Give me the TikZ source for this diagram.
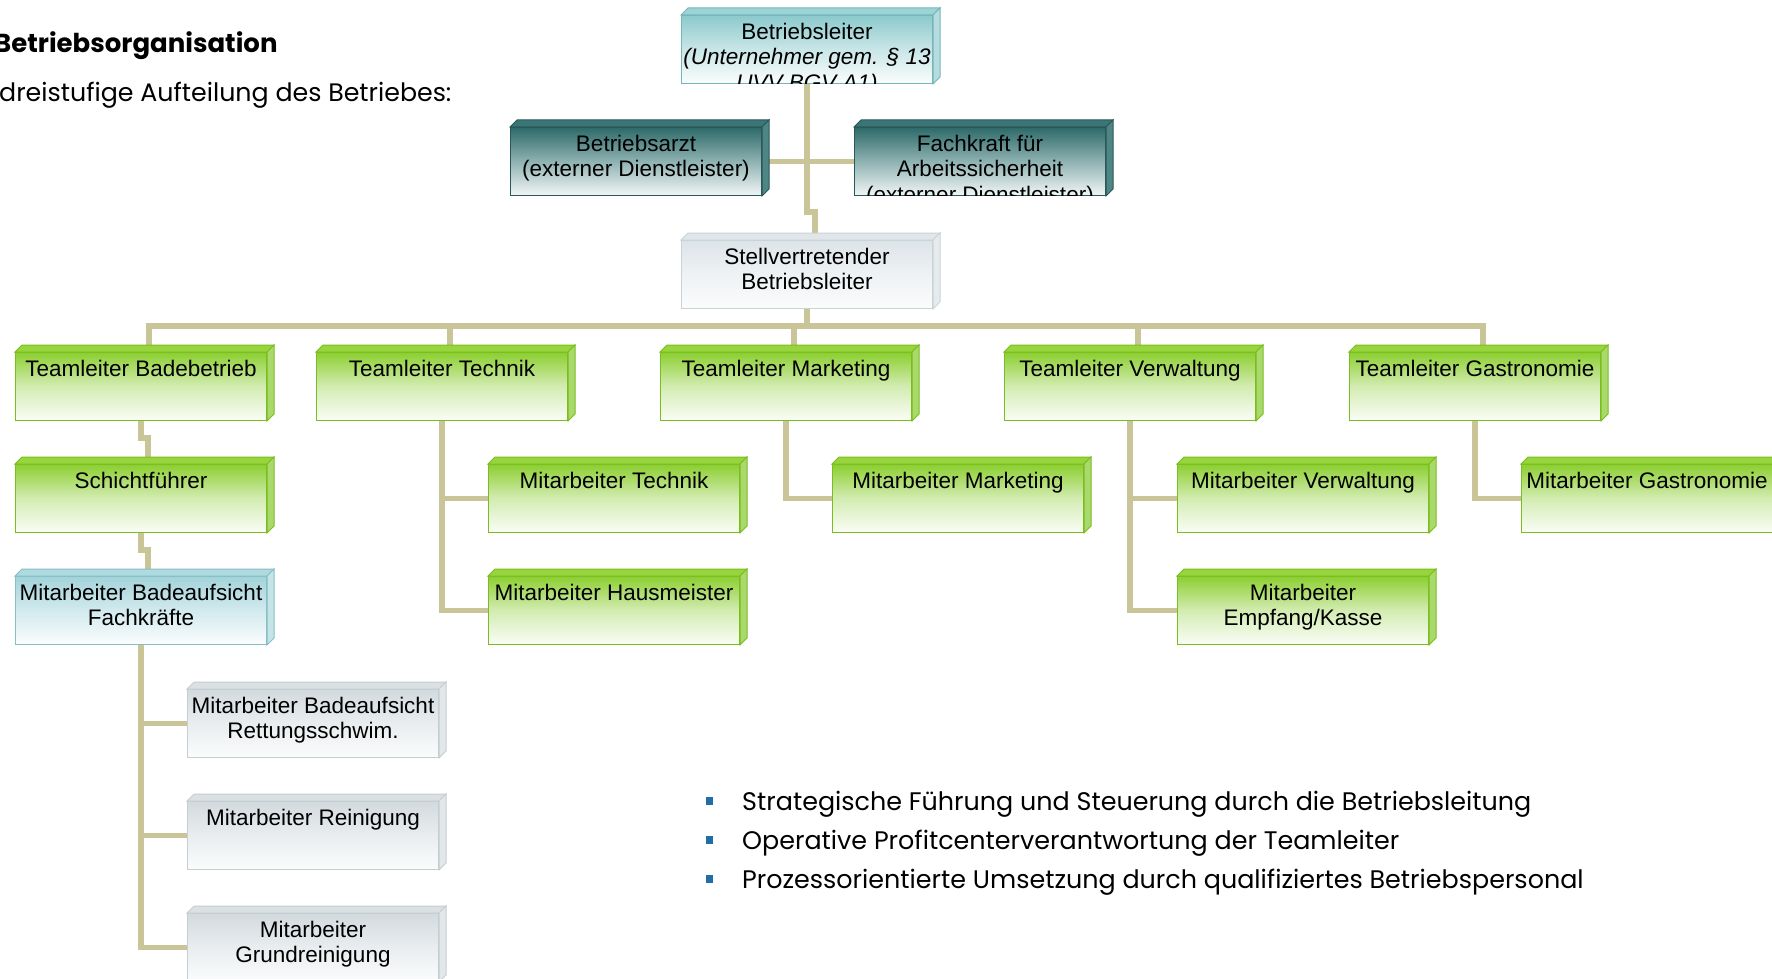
\documentclass[tikz,border=0pt]{standalone}
\usepackage{fontspec}
\setmainfont{Liberation Sans}
\newfontfamily\gothic{Poppins}
\usetikzlibrary{calc}
\pgfdeclarelayer{bg}
\pgfsetlayers{bg,main}

\definecolor{conncol}{HTML}{C9C598}
\definecolor{bulcol}{HTML}{1F6EA5}
% green
\definecolor{grA}{HTML}{8DCF32}\definecolor{grB}{HTML}{D3ECB2}\definecolor{grC}{HTML}{FAFDF6}
\definecolor{grD}{HTML}{79BE1E}\definecolor{grT}{HTML}{98D53C}\definecolor{grS}{HTML}{A9D96C}
% dark teal
\definecolor{tlA}{HTML}{2F6A6A}\definecolor{tlB}{HTML}{8FB2B2}\definecolor{tlC}{HTML}{F2F6F6}
\definecolor{tlD}{HTML}{2A5858}\definecolor{tlT}{HTML}{3B7676}\definecolor{tlS}{HTML}{4E8585}
% light cyan
\definecolor{cyA}{HTML}{8CCACD}\definecolor{cyB}{HTML}{C9E6E7}\definecolor{cyC}{HTML}{FBFDFD}
\definecolor{cyD}{HTML}{78B5B9}\definecolor{cyT}{HTML}{9BD3D6}\definecolor{cyS}{HTML}{B5DCDE}
% stellvertreter
\definecolor{stA}{HTML}{DDE4E8}\definecolor{stB}{HTML}{EEF2F4}\definecolor{stC}{HTML}{FBFCFC}
\definecolor{stD}{HTML}{CAD3D8}\definecolor{stT}{HTML}{E0E6E9}\definecolor{stS}{HTML}{E6EBED}
% fachkraefte
\definecolor{fkA}{HTML}{A3D3DA}\definecolor{fkB}{HTML}{D2EAEE}\definecolor{fkC}{HTML}{FBFDFD}
\definecolor{fkD}{HTML}{86BFC6}\definecolor{fkT}{HTML}{AEDAE0}\definecolor{fkS}{HTML}{C5E4E8}
% gray
\definecolor{gyA}{HTML}{D3DADE}\definecolor{gyB}{HTML}{E9EDEF}\definecolor{gyC}{HTML}{FBFCFC}
\definecolor{gyD}{HTML}{C6CED2}\definecolor{gyT}{HTML}{DAE0E3}\definecolor{gyS}{HTML}{E2E7E9}

\tikzset{
  obase/.style={rectangle, inner sep=0pt, minimum width=251pt, minimum height=68pt, line width=1pt},
  btext/.style={anchor=north, align=center, inner sep=0pt, text=black,
    font=\fontsize{22.5}{25.5}\selectfont},
  conn/.style={line width=5.5pt, draw=conncol},
  bulletsq/.style={fill=bulcol, inner sep=0pt, minimum width=7pt, minimum height=8pt},
  bultext/.style={anchor=base west, inner sep=0pt, font=\gothic\fontsize{25.4}{28}\selectfont},
}

% name, kind, L, T, text
\newcommand\obox[5]{%
  \node[obase, top color=#2A, bottom color=#2C, middle color=#2B, draw=#2D,
    anchor=north west] (#1) at (#3,#4+7) {};
  \begin{scope}
    \clip ([shift={(0.5,-0.5)}]#1.south west) rectangle ([shift={(-0.5,0.5)}]#1.north east);
    \node[btext] (#1t) at ([yshift=-4pt]#1.north) {\rule{0pt}{20pt}#5};
  \end{scope}
  \filldraw[fill=#2T, draw=#2D, line width=1pt] (#1.north west) -- ([shift={(7,-7)}]#1.north west)
     -- ([shift={(7,-7)}]#1.north east) -- (#1.north east) -- cycle;
  \filldraw[fill=#2S, draw=#2D, line width=1pt] (#1.north east) -- ([shift={(7,-7)}]#1.north east)
     -- ([shift={(7,-7)}]#1.south east) -- (#1.south east) -- cycle;
}

\begin{document}
\begin{tikzpicture}[x=1pt, y=-1pt]
\useasboundingbox (0,0) rectangle (1772,979);
\clip (0,0) rectangle (1772,979);

% boxes
\obox{BL}{cy}{681}{8}{Betriebsleiter\\ \textit{(Unternehmer gem. § 13}\\ \textit{UVV BGV A1)}}
\obox{Arzt}{tl}{510}{120}{Betriebsarzt\\ (externer Dienstleister)}
\obox{FK}{tl}{854}{120}{Fachkraft für\\ Arbeitssicherheit\\ (externer Dienstleister)}
\obox{SV}{st}{681}{233}{Stellvertretender\\ Betriebsleiter}

\obox{TB}{gr}{15}{345}{Teamleiter Badebetrieb}
\obox{TT}{gr}{316}{345}{Teamleiter Technik}
\obox{TM}{gr}{660}{345}{Teamleiter Marketing}
\obox{TV}{gr}{1004}{345}{Teamleiter Verwaltung}
\obox{TG}{gr}{1349}{345}{Teamleiter Gastronomie}

\obox{SF}{gr}{15}{457}{Schichtführer}
\obox{MT}{gr}{488}{457}{Mitarbeiter Technik}
\obox{MM}{gr}{832}{457}{Mitarbeiter Marketing}
\obox{MV}{gr}{1177}{457}{Mitarbeiter Verwaltung}
\obox{MG}{gr}{1521}{457}{Mitarbeiter Gastronomie}

\obox{FKr}{fk}{15}{569}{Mitarbeiter Badeaufsicht\\ Fachkräfte}
\obox{MH}{gr}{488}{569}{Mitarbeiter Hausmeister}
\obox{ME}{gr}{1177}{569}{Mitarbeiter\\ Empfang/Kasse}

\obox{G1}{gy}{187}{682}{Mitarbeiter Badeaufsicht\\ Rettungsschwim.}
\obox{G2}{gy}{187}{794}{Mitarbeiter Reinigung}
\obox{G3}{gy}{187}{906}{Mitarbeiter\\ Grundreinigung}

% texts
\node[anchor=base west, inner sep=0pt, font=\gothic\bfseries\fontsize{26}{30}\selectfont] (title) at (-6,53) {Betriebsorganisation};
\node[anchor=base west, inner sep=0pt, font=\gothic\fontsize{25.3}{28}\selectfont] (sub) at (-1,102) {dreistufige Aufteilung des Betriebes:};

\node[bulletsq] (b1) at (709,800.5) {};
\node[bulletsq] (b2) at (709,839.5) {};
\node[bulletsq] (b3) at (709,878.5) {};
\node[bultext] (l1) at (742,810) {Strategische Führung und Steuerung durch die Betriebsleitung};
\node[bultext] (l2) at (742,849) {Operative Profitcenterverantwortung der Teamleiter};
\node[bultext] (l3) at (742,888) {Prozessorientierte Umsetzung durch qualifiziertes Betriebspersonal};

% connectors
\coordinate (j0) at (0,212);
\coordinate (bus) at (0,326);
\coordinate (j1) at (0,438);
\coordinate (j2) at (0,550);
\begin{pgfonlayer}{bg}
\fill[white] (0,0) rectangle (1772,979);
\draw[conn] (BL.south) -- (BL.south |- j0) -- ([xshift=8pt]SV.north |- j0) -- ([xshift=8pt]SV.north);
\draw[conn] (Arzt.east) -- (FK.west);
\draw[conn] (SV.south) -- (SV.south |- bus);
\draw[conn] ([xshift=8pt]TB.north) -- ([xshift=8pt]TB.north |- bus) -- ([xshift=8pt]TG.north |- bus) -- ([xshift=8pt]TG.north);
\foreach \n in {TT,TM,TV} \draw[conn] ([xshift=8pt]\n.north) -- ([xshift=8pt]\n.north |- bus);
\draw[conn] (TB.south) -- (TB.south |- j1) -- ([xshift=7pt]SF.north |- j1) -- ([xshift=7pt]SF.north);
\draw[conn] (SF.south) -- (SF.south |- j2) -- ([xshift=7pt]FKr.north |- j2) -- ([xshift=7pt]FKr.north);
\draw[conn] (FKr.south) |- (G1.west);
\draw[conn] (FKr.south) |- (G2.west);
\draw[conn] (FKr.south) |- (G3.west);
\draw[conn] (TT.south) |- (MT.west);
\draw[conn] (TT.south) |- (MH.west);
\draw[conn] (TM.south) |- (MM.west);
\draw[conn] (TV.south) |- (MV.west);
\draw[conn] (TV.south) |- (ME.west);
\draw[conn] (TG.south) |- (MG.west);
\end{pgfonlayer}
\end{tikzpicture}
\end{document}
